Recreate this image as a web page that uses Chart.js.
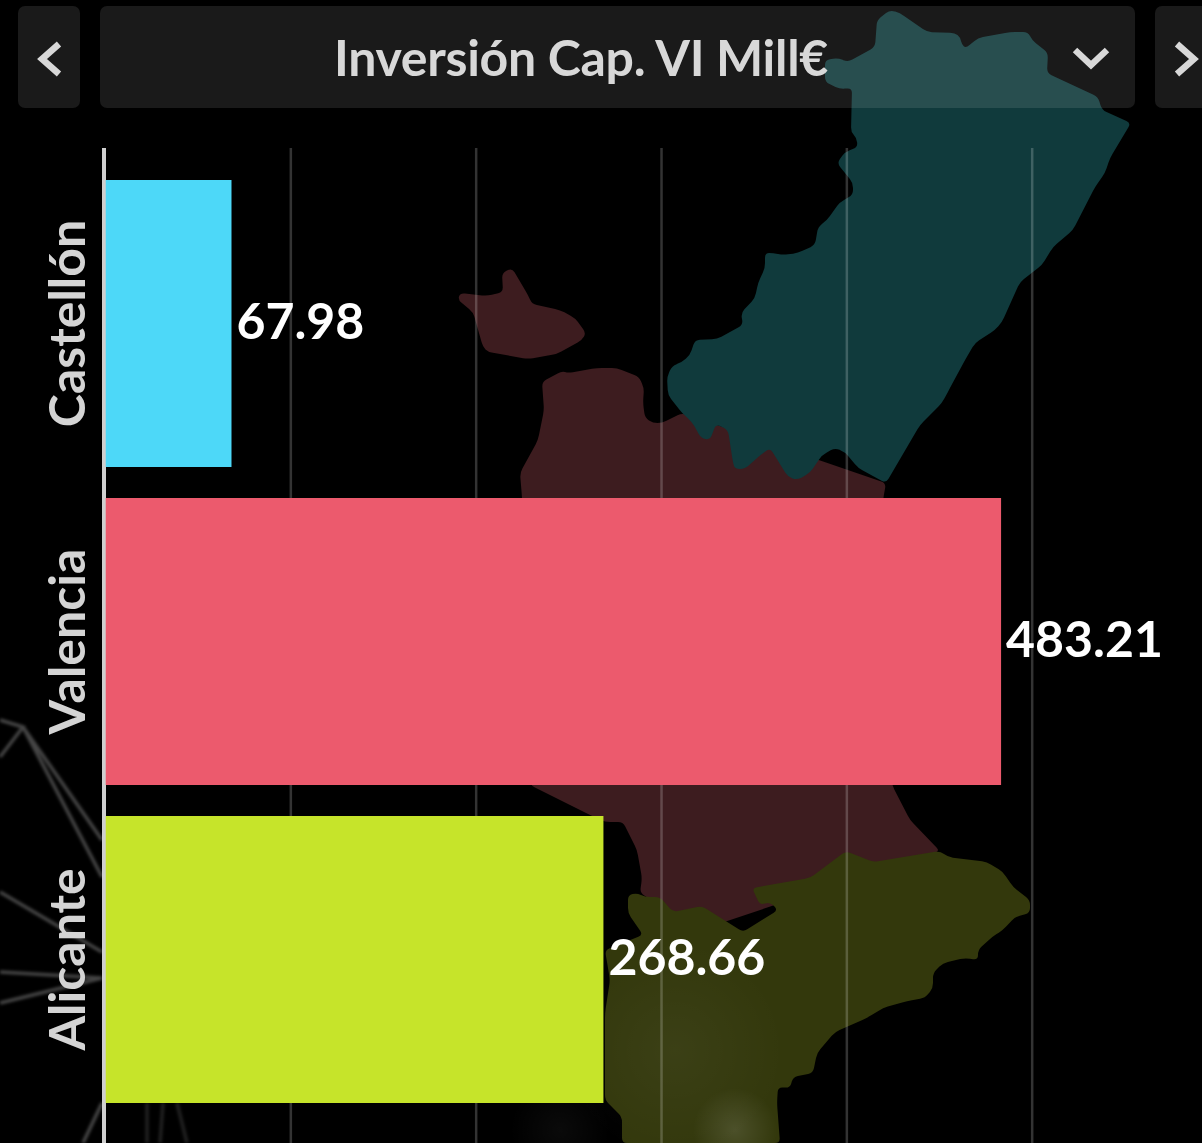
<!DOCTYPE html>
<html lang="es">
<head>
<meta charset="utf-8">
<title>Inversión Cap. VI Mill€</title>
<style>
html,body{margin:0;padding:0;background:#000;width:1202px;height:1143px;overflow:hidden}
#map,#chart,#head{position:absolute;left:0;top:0}
#map{width:1202px;height:1143px}
#chart{width:1202px;height:1143px}
#head{width:1202px;height:120px}
.panel{position:absolute;top:6px;height:102px;background:rgba(255,255,255,.1);border-radius:7px}
#title{left:100px;width:1035px;box-sizing:border-box;padding-right:73px;font:700 50px Lato,sans-serif;color:#d8d8d8;line-height:102px;text-align:center;letter-spacing:-.3px}
.chev{position:absolute;left:0;top:0}
</style>
</head>
<body>
<svg id="map" viewBox="0 0 1202 1143">
<defs>
<filter id="b1"><feGaussianBlur stdDeviation="1.4"/></filter>
<radialGradient id="g1"><stop offset="0" stop-color="#fff" stop-opacity=".12"/><stop offset="1" stop-color="#fff" stop-opacity="0"/></radialGradient>
<radialGradient id="g2"><stop offset="0" stop-color="#fff" stop-opacity=".04"/><stop offset="1" stop-color="#fff" stop-opacity="0"/></radialGradient>
</defs>
<path class="land" fill="#3d1c1f" d="M460 293L487 296L503 292L502 273L512 268L528 295L532 304L560 310L575 318L586 333L582 340L557 354L528 359L488 352L483 347L473 312L458 300Z"/>
<path class="land" fill="#3d1c1f" d="M542 382L562 371L568 373L597 368L617 368L639 377L644 388L643 403L645 418L653 423L662 423L682 413L886 483L883 500L892 785L910 820L940 851L850 880L700 930L640 893L642 878L637 850L623 822L605 822L590 815L530 785L522 497L520 473L538 440L544 410Z"/>
<path class="land" fill="#103a3c" d="M890 10L900 13L927 32L955 33L960 37L962 45L966 48L978 38L1010 32L1028 32L1032 40L1048 53L1047 73L1098 97L1102 110L1131 123L1110 158L1105 173L1095 187L1073 230L1053 247L1042 265L1020 282L1002 322L995 330L975 343L965 360L950 388L942 403L920 425L886 483L858 468L845 452L835 448L822 455L810 473L797 480L788 477L770 448L758 457L745 469L735 469L733 463L728 430L716 424L710 440L701 438L692 422L682 413L668 395L667 377L672 366L682 362L690 355L695 340L717 339L743 325L741 313L755 298L758 283L765 268L765 253L773 253L783 255L798 253L815 245L818 227L827 220L840 202L853 195L853 183L837 163L845 152L858 147L856 137L851 132L852 88L840 89L825 82L825 60L838 58L848 62L875 47L877 20Z"/>
<path class="land" fill="#33380c" d="M628 895L637 893L645 897L660 897L673 912L702 906L743 932L778 910L770 902L760 905L752 888L810 878L846 851L873 862L940 851L948 857L987 862L1003 872L1013 887L1030 900L1030 913L1015 917L1003 930L992 937L978 950L978 960L965 958L943 963L933 973L933 988L925 998L907 1001L883 1008L867 1018L835 1032L817 1053L813 1073L793 1077L790 1088L778 1087L777 1103L780 1143L622 1143L622 1117L605 1100L605 1013L610 980L605 950L643 935L628 913Z"/>
<g stroke="#fff" stroke-opacity=".27" stroke-width="3.5" fill="none" filter="url(#b1)">
<path d="M0 720L23 727L0 757M23 727L102 840M23 727L102 877M0 892L102 952M0 972L102 978M0 1003L102 978M83 1143L102 1103"/>
<path stroke-opacity=".13" d="M147 1103L147 1143M163 1103L160 1143M177 1103L187 1143"/>
</g>
<circle cx="735" cy="1130" r="42" fill="url(#g1)"/>
<circle cx="675" cy="1050" r="110" fill="url(#g2)"/>
<circle cx="560" cy="1130" r="50" fill="url(#g2)"/>
</svg>
<canvas id="chart" width="1202" height="1143"></canvas>
<div id="head">
<div class="panel" style="left:18px;width:62px"></div>
<div class="panel" id="title">Inversión Cap. VI Mill€</div>
<div class="panel" style="left:1155px;width:60px;border-radius:7px 0 0 7px"></div>
<svg class="chev" width="1202" height="120" fill="none" stroke="#d8d8d8" stroke-width="6.5">
<path d="M59 44L42 59L59 74"/>
<path d="M1075 50L1091 65L1107 50"/>
<path d="M1177 44L1194 59L1177 74"/>
</svg>
</div>
<script src="https://cdn.jsdelivr.net/npm/chart.js@4"></script>
<script>
const categories = ["Castellón", "Valencia", "Alicante"];
const investment = [67.98, 483.21, 268.66];
const barColours = ["#4dd8f8", "#ec5a6d", "#c6e42a"];
const gridTicks = [100, 200, 300, 400, 500];

// Soften the corners of the decorative map outlines behind the chart.
document.querySelectorAll("path.land").forEach(p => {
  const pts = p.getAttribute("d").match(/-?\d+(\.\d+)? -?\d+(\.\d+)?/g).map(s => s.split(" ").map(Number));
  const n = pts.length;
  const along = (a, b, r) => {
    const d = Math.hypot(b[0] - a[0], b[1] - a[1]) || 1, t = Math.min(r / d, 0.5);
    return [a[0] + (b[0] - a[0]) * t, a[1] + (b[1] - a[1]) * t];
  };
  let d = "";
  pts.forEach((c, i) => {
    const s = along(c, pts[(i + n - 1) % n], 5), e = along(c, pts[(i + 1) % n], 5);
    d += (i ? "L" : "M") + s[0] + " " + s[1] + "Q" + c[0] + " " + c[1] + " " + e[0] + " " + e[1];
  });
  p.setAttribute("d", d + "Z");
});

const fullHeightGrid = {
  id: "fullHeightGrid",
  beforeDatasetsDraw(chart) {
    const ctx = chart.ctx, x = chart.scales.x;
    ctx.save();
    ctx.strokeStyle = "rgba(255,255,255,.2)";
    ctx.lineWidth = 2.5;
    gridTicks.forEach(v => {
      const px = x.getPixelForValue(v);
      ctx.beginPath(); ctx.moveTo(px, 148); ctx.lineTo(px, 1143); ctx.stroke();
    });
    ctx.strokeStyle = "#cfcfcf";
    ctx.lineWidth = 4;
    const zero = x.getPixelForValue(0) - 1.5;
    ctx.beginPath(); ctx.moveTo(zero, 148); ctx.lineTo(zero, 1143); ctx.stroke();
    ctx.restore();
  }
};
const valueLabels = {
  id: "valueLabels",
  afterDatasetsDraw(chart) {
    const ctx = chart.ctx;
    ctx.save();
    ctx.fillStyle = "#fff";
    ctx.font = "700 50px Lato, sans-serif";
    ctx.textAlign = "left";
    ctx.textBaseline = "middle";
    chart.getDatasetMeta(0).data.forEach((bar, i) => {
      ctx.fillText(investment[i].toFixed(2), bar.x + 5, bar.y - 1);
    });
    ctx.restore();
  }
};

new Chart(document.getElementById("chart"), {
  type: "bar",
  data: {
    labels: categories,
    datasets: [{
      data: investment,
      backgroundColor: barColours,
      borderWidth: 0,
      categoryPercentage: 1,
      barPercentage: 0.9025
    }]
  },
  options: {
    indexAxis: "y",
    responsive: false,
    animation: false,
    layout: { padding: { top: 164.5, bottom: 24.5, right: 3, left: 0 } },
    plugins: { legend: { display: false }, tooltip: { enabled: false }, title: { display: false } },
    scales: {
      x: {
        min: 0, max: 590,
        grid: { display: false },
        border: { display: false },
        ticks: { display: false, stepSize: 100 },
        afterFit(s) { s.height = 0; }
      },
      y: {
        grid: { display: false, drawTicks: false },
        border: { display: false },
        ticks: {
          color: "#d4d4d4",
          font: { family: "Lato, sans-serif", weight: "700", size: 50 },
          minRotation: 90, maxRotation: 90,
          crossAlign: "center",
          autoSkip: false,
          padding: -67
        },
        afterFit(s) { s.width = 105.5; }
      }
    }
  },
  plugins: [fullHeightGrid, valueLabels]
});
</script>
</body>
</html>
